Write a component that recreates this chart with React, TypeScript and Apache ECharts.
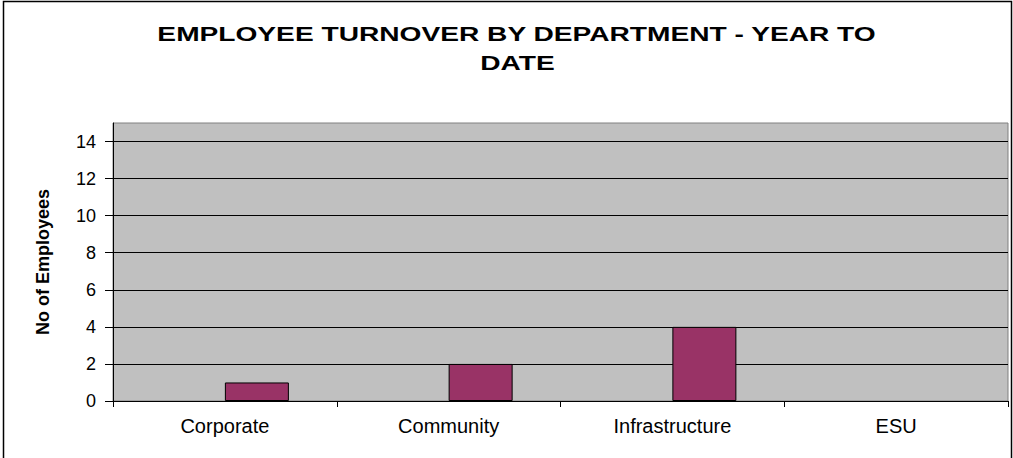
import React, { useEffect, useRef } from "react";
import * as echarts from "echarts";

const titleLine1 = "EMPLOYEE TURNOVER BY DEPARTMENT - YEAR TO";
const titleLine2 = "DATE";
const categories = ["Corporate", "Community", "Infrastructure", "ESU"];
const emptySeries: (number | null)[] = [null, null, null, null];
const turnover = [1, 2, 4, 0];
const yTicks = [0, 2, 4, 6, 8, 10, 12, 14];
const yAxisName = "No of Employees";

const FONT = "'Liberation Sans', Arial, Helvetica, sans-serif";

export default function App() {
  const ref = useRef<HTMLDivElement>(null);
  useEffect(() => {
    if (!ref.current) return;
    const chart = echarts.init(ref.current, undefined, { renderer: "svg" });
    chart.setOption({
      animation: false,
      backgroundColor: "#ffffff",
      graphic: [
        {
          type: "rect",
          shape: { x: 3.5, y: 1.5, width: 1008, height: 470 },
          style: { fill: "none", stroke: "#000", lineWidth: 1.5 },
          z: 100,
        },
        {
          type: "text",
          x: 516.5,
          y: 34,
          scaleX: 1.34,
          style: {
            text: titleLine1,
            font: `bold 21px ${FONT}`,
            fill: "#000",
            textAlign: "center",
            textVerticalAlign: "middle",
          },
        },
        {
          type: "text",
          x: 517.5,
          y: 62.5,
          scaleX: 1.34,
          style: {
            text: titleLine2,
            font: `bold 21px ${FONT}`,
            fill: "#000",
            textAlign: "center",
            textVerticalAlign: "middle",
          },
        },
      ],
      grid: {
        left: 113,
        top: 123,
        right: 5,
        bottom: 57,
        show: true,
        backgroundColor: "#C0C0C0",
        borderColor: "#808080",
        borderWidth: 1,
        containLabel: false,
      },
      xAxis: {
        type: "category",
        data: categories,
        axisLine: { show: true, lineStyle: { color: "#000", width: 1 } },
        axisTick: { show: true, length: 6, lineStyle: { color: "#000" } },
        axisLabel: {
          color: "#000",
          fontFamily: FONT,
          fontSize: 20,
          margin: 15,
        },
        splitLine: { show: false },
      },
      yAxis: {
        type: "value",
        min: 0,
        max: 15,
        interval: 1,
        name: yAxisName,
        nameLocation: "middle",
        nameRotate: 90,
        nameGap: 61,
        nameTextStyle: {
          color: "#000",
          fontFamily: FONT,
          fontSize: 18,
          fontWeight: "bold",
        },
        axisLine: { show: true, lineStyle: { color: "#000", width: 1 } },
        axisTick: {
          show: true,
          length: 8,
          lineStyle: { color: "#000" },
          customValues: yTicks,
        },
        axisLabel: {
          color: "#000",
          fontFamily: FONT,
          fontSize: 18,
          margin: 17,
          customValues: yTicks,
        },
        splitLine: {
          show: true,
          lineStyle: {
            color: "#000",
            width: 1,
          },
          interval: (index: number, value: any) => yTicks.indexOf(Number(value)) >= 0,
        },
      },
      series: [
        {
          type: "bar",
          data: emptySeries,
          barWidth: 64,
          barGap: "0%",
          itemStyle: { color: "#9999FF", borderColor: "#000", borderWidth: 1 },
        },
        {
          type: "bar",
          data: turnover.map((v) =>
            v === 0 ? { value: v, itemStyle: { borderWidth: 0, opacity: 0 } } : v
          ),
          barWidth: 64,
          barGap: "0%",
          itemStyle: { color: "#993366", borderColor: "#000", borderWidth: 1 },
        },
      ],
    });
    return () => chart.dispose();
  }, []);
  return (
    <div
      ref={ref}
      style={{ position: "fixed", left: 0, top: 0, width: 1013, height: 458 }}
    />
  );
}
